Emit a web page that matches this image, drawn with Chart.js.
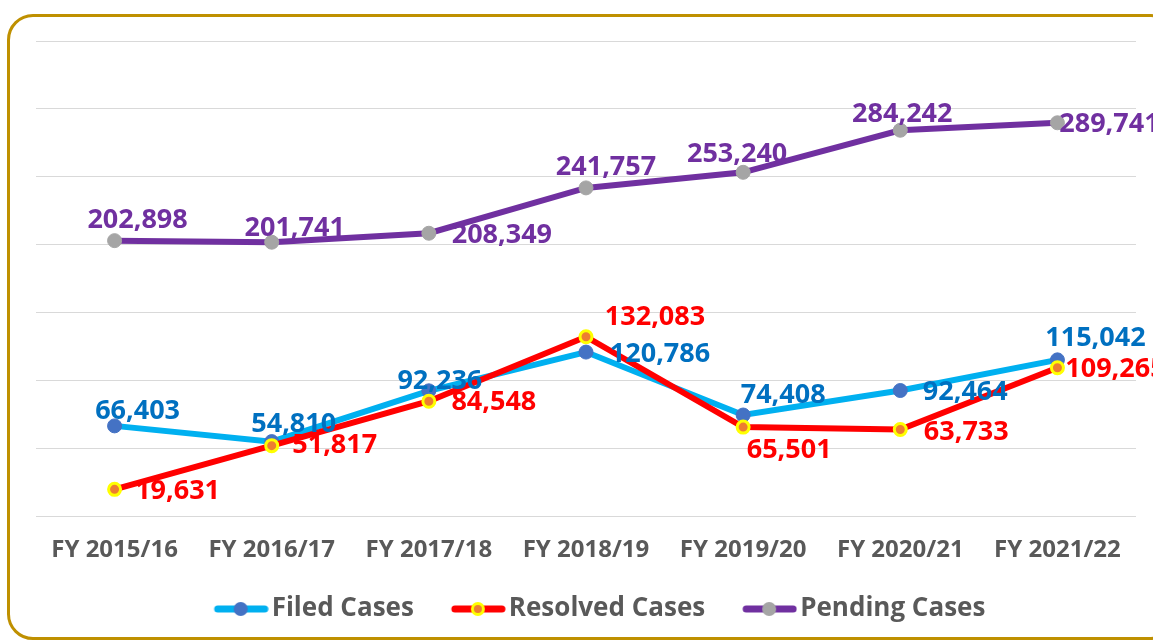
<!DOCTYPE html>
<html>
<head>
<meta charset="utf-8">
<script src="https://cdn.jsdelivr.net/npm/chart.js@4.4.0/dist/chart.umd.min.js"></script>
<style>
  html, body { margin: 0; padding: 0; background: #fff; overflow: hidden; }
  #marco {
    position: absolute; left: 7px; top: 14px; width: 1170px; height: 626px;
    border: 3px solid #BF9000; border-radius: 26px; box-sizing: border-box;
  }
  #grafico { position: absolute; left: 0; top: 0; }
</style>
</head>
<body>
<div id="marco"></div>
<canvas id="grafico" width="1153" height="644"></canvas>
<script>
// Años fiscales
const anios = ['FY 2015/16', 'FY 2016/17', 'FY 2017/18', 'FY 2018/19', 'FY 2019/20', 'FY 2020/21', 'FY 2021/22'];

// Casos por año
const casosPresentados = [66403, 54810, 92236, 120786, 74408, 92464, 115042];
const casosResueltos = [19631, 51817, 84548, 132083, 65501, 63733, 109265];
const casosPendientes = [202898, 201741, 208349, 241757, 253240, 284242, 289741];

// Marcas del eje Y (no se muestran, solo la cuadrícula)
const ejeYMin = 0;
const ejeYMax = 350000;
const ejeYPaso = 50000;

// Desplazamiento de cada etiqueta respecto a su punto (dx, dy)
const despPresentados = [[23, -15], [22, -17], [11, -10], [74, 2], [40, -20], [65, 2], [38, -22]];
const despResueltos = [[63, 2], [63, 0], [65, 1], [69, -19], [46, 23], [66, 3], [58, 2]];
const despPendientes = [[23, -20], [23, -14], [73, 2], [20, -21], [-6, -18], [2, -16], [52, 2]];

const FUENTE = '"Open Sans", "Noto Sans", sans-serif';

// Icono de leyenda estilo Excel: línea con punto al centro
function iconoLeyenda(colorLinea, colorPunto, colorBorde) {
    const c = document.createElement('canvas');
    c.width = 92;
    c.height = 18;
    const g = c.getContext('2d');
    const x0 = 92 - 55;
    g.strokeStyle = colorLinea;
    g.lineWidth = 7;
    g.lineCap = 'round';
    g.beginPath();
    g.moveTo(x0 + 4, 9);
    g.lineTo(92 - 4, 9);
    g.stroke();
    g.beginPath();
    g.arc(x0 + 27, 9, 7, 0, Math.PI * 2);
    g.fillStyle = colorBorde;
    g.fill();
    g.beginPath();
    g.arc(x0 + 27, 9, 4, 0, Math.PI * 2);
    g.fillStyle = colorPunto;
    g.fill();
    return c;
}

// Plugin para dibujar los valores junto a cada punto
const etiquetasValores = {
    id: 'etiquetasValores',
    afterDatasetsDraw(chart) {
        const ctx = chart.ctx;
        ctx.save();
        ctx.font = 'bold 27px ' + FUENTE;
        ctx.textAlign = 'center';
        ctx.textBaseline = 'middle';
        chart.data.datasets.forEach((ds, i) => {
            const meta = chart.getDatasetMeta(i);
            meta.data.forEach((p, j) => {
                const d = ds.desplazamientos[j];
                ctx.fillStyle = ds.colorEtiqueta;
                ctx.fillText(ds.data[j].toLocaleString('en-US'), p.x + d[0], p.y + d[1]);
            });
        });
        ctx.restore();
    }
};

const ctx = document.getElementById('grafico').getContext('2d');

new Chart(ctx, {
    type: 'line',
    data: {
        labels: anios,
        datasets: [
            {
                label: 'Filed Cases',
                data: casosPresentados,
                borderColor: '#00B0F0',
                backgroundColor: '#4472C4',
                borderWidth: 6,
                pointStyle: 'circle',
                pointRadius: 7,
                pointBackgroundColor: '#4472C4',
                pointBorderColor: '#4472C4',
                pointBorderWidth: 1,
                colorEtiqueta: '#0070C0',
                desplazamientos: despPresentados,
                order: 2
            },
            {
                label: 'Resolved Cases',
                data: casosResueltos,
                borderColor: '#FF0000',
                backgroundColor: '#ED7D31',
                borderWidth: 6,
                pointStyle: 'circle',
                pointRadius: 6,
                pointBackgroundColor: '#ED7D31',
                pointBorderColor: '#FFFF00',
                pointBorderWidth: 3,
                colorEtiqueta: '#FF0000',
                desplazamientos: despResueltos,
                order: 1
            },
            {
                label: 'Pending Cases',
                data: casosPendientes,
                borderColor: '#7030A0',
                backgroundColor: '#A5A5A5',
                borderWidth: 6,
                pointStyle: 'circle',
                pointRadius: 7,
                pointBackgroundColor: '#A5A5A5',
                pointBorderColor: '#A5A5A5',
                pointBorderWidth: 1,
                colorEtiqueta: '#7030A0',
                desplazamientos: despPendientes,
                order: 3
            }
        ]
    },
    options: {
        responsive: false,
        animation: false,
        layout: { padding: { left: 36, right: 17, top: 41, bottom: 12 } },
        elements: {
            line: { tension: 0 }
        },
        scales: {
            x: {
                offset: true,
                grid: { display: false, drawTicks: false },
                border: { display: false },
                ticks: {
                    color: '#595959',
                    font: { family: FUENTE, size: 24, weight: 'bold' },
                    padding: 20,
                    maxRotation: 0
                },
                afterFit(s) { s.height = 70; }
            },
            y: {
                min: ejeYMin,
                max: ejeYMax,
                ticks: { display: false, stepSize: ejeYPaso },
                grid: { color: '#D9D9D9', lineWidth: 1, drawTicks: false },
                border: { display: false },
                afterFit(s) { s.width = 0; }
            }
        },
        plugins: {
            tooltip: { enabled: false },
            legend: {
                position: 'bottom',
                labels: {
                    color: '#595959',
                    font: { family: FUENTE, size: 26, weight: 'bold' },
                    usePointStyle: true,
                    pointStyleWidth: 72,
                    padding: 10,
                    generateLabels(chart) {
                        return chart.data.datasets.map((ds, i) => ({
                            text: ds.label,
                            pointStyle: iconoLeyenda(ds.borderColor, ds.pointBackgroundColor, ds.pointBorderColor),
                            fontColor: '#595959',
                            lineWidth: 0,
                            hidden: false,
                            datasetIndex: i
                        }));
                    }
                }
            }
        }
    },
    plugins: [etiquetasValores]
});
</script>
</body>
</html>
